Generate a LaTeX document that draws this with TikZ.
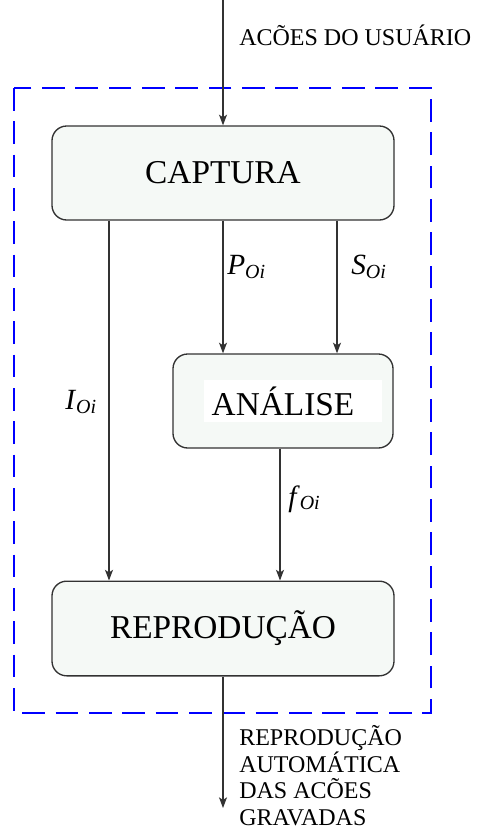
\documentclass[tikz,border=0pt]{standalone}
\usepackage{fontspec}
\setmainfont{Liberation Serif}
\usetikzlibrary{shapes, arrows.meta, positioning, calc}

\definecolor{blocofill}{RGB}{245,249,246}
\definecolor{linha}{RGB}{50,50,50}
\newcommand{\rotsub}[1]{\textit{#1}\raisebox{-2.5pt}{\fontsize{15}{15}\selectfont\textit{Oi}}}

\tikzset{
	bloco/.style={draw=linha, fill=blocofill, line width=1pt, rounded corners=11pt, inner sep=0pt, font=\fontsize{25}{30}\selectfont},
	fluxo/.style={draw=linha, line width=0.9pt, -{Stealth[length=8pt,width=6pt,inset=2pt]}},
	rotulo/.style={inner sep=0pt, anchor=west, font=\fontsize{22}{26}\selectfont},
	texto/.style={inner sep=0pt, anchor=west, align=left, font=\fontsize{18}{20}\selectfont}
}

\begin{document}
\begin{tikzpicture}[x=0.75pt,y=0.75pt,yscale=-1,xscale=1]
	\useasboundingbox (0,0) rectangle (481,832);
	
	%Dashed frame
	\draw [color=blue, line width=2.2pt, dash pattern=on 17pt off 8pt] (14,88) rectangle (431,713);
	
	%Blocks
	\node [bloco, minimum width=256.5pt, minimum height=70.5pt] (captura) at (223,173) {CAPTURA};
	\node [bloco, minimum width=165pt, minimum height=70.5pt] (analise) at (283,401) {};
	\fill [white] (204,380) rectangle (382,422);
	\node [inner sep=0pt, font=\fontsize{25}{30}\selectfont] (analisetxt) at (analise.center) {ANÁLISE};
	\node [bloco, minimum width=256.5pt, minimum height=71pt] (repro) at (223,628.5) {REPRODUÇÃO};
	
	%Free ends and columns
	\coordinate (entrada) at (223,0);
	\coordinate (saida) at (223,808);
	\coordinate (colI) at (109,0);
	\coordinate (colP) at (223,0);
	\coordinate (colS) at (337,0);
	\coordinate (colF) at (280,0);
	
	%Connectors
	\draw [fluxo] (entrada) -- (captura.north -| entrada);
	\draw [fluxo] (captura.south -| colI) -- (repro.north -| colI);
	\draw [fluxo] (captura.south -| colP) -- (analise.north -| colP);
	\draw [fluxo] (captura.south -| colS) -- (analise.north -| colS);
	\draw [fluxo] (analise.south -| colF) -- (repro.north -| colF);
	\draw [fluxo] (repro.south -| saida) -- (saida);
	
	%Labels
	\node [rotulo] (lblI) at (65,402) {\rotsub{I}};
	\node [rotulo] (lblP) at (227,267) {\rotsub{P}};
	\node [rotulo] (lblS) at (351,267) {\rotsub{S}};
	\node [rotulo] (lblF) at (288,499) {\rotsub{f}};
	
	% Text Node
	\node [texto] (acoes) at (239,35) {ACÕES DO USUÁRIO};
	\node [texto, anchor=north west] (reproauto) at (239,725) {REPRODUÇÃO\\AUTOMÁTICA\\DAS ACÕES\\GRAVADAS};
\end{tikzpicture}
\end{document}
